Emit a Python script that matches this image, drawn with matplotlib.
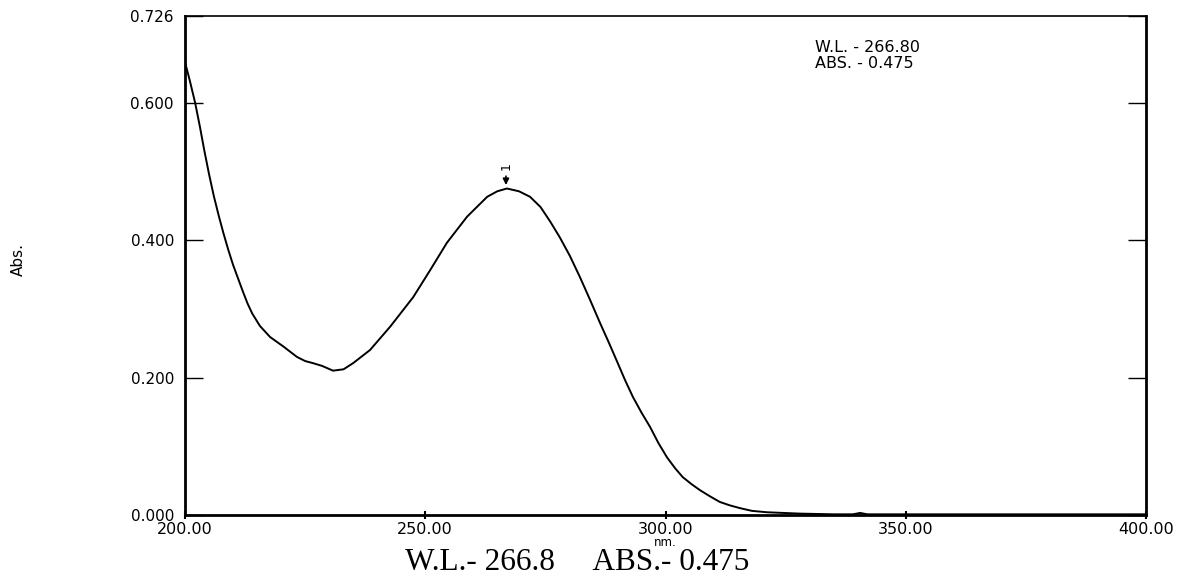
import matplotlib
matplotlib.use("Agg")
import matplotlib.pyplot as plt

wavelength = [200.0, 201.0, 202.1, 203.1, 204.0, 205.0, 206.0, 207.0, 208.0, 209.0,
              210.0, 211.0, 212.0, 213.0, 214.0, 215.6, 217.7, 220.5, 223.3, 225.0,
              226.6, 228.5, 230.8, 233.0, 235.0, 238.5, 242.7, 247.5, 251.0, 254.5,
              258.7, 262.9, 265.0, 267.0, 269.5, 271.8, 274.0, 276.0, 278.0, 280.1,
              282.2, 284.3, 286.4, 288.2, 290.0, 291.6, 293.2, 295.0, 296.8, 298.5,
              300.3, 302.0, 303.6, 305.4, 307.2, 309.3, 311.3, 313.4, 315.5, 318.0,
              321.1, 324.5, 328.0, 335.0, 339.0, 340.5, 342.0, 400.0]
absorbance = [0.659, 0.632, 0.600, 0.565, 0.531, 0.496, 0.464, 0.436, 0.410, 0.386,
              0.364, 0.345, 0.326, 0.308, 0.293, 0.275, 0.259, 0.245, 0.230, 0.224,
              0.221, 0.217, 0.210, 0.212, 0.221, 0.240, 0.274, 0.317, 0.356, 0.396,
              0.434, 0.463, 0.471, 0.475, 0.471, 0.463, 0.448, 0.427, 0.404, 0.377,
              0.346, 0.313, 0.279, 0.251, 0.222, 0.196, 0.172, 0.149, 0.128, 0.105,
              0.084, 0.068, 0.055, 0.045, 0.036, 0.027, 0.019, 0.014, 0.010, 0.006,
              0.004, 0.003, 0.002, 0.001, 0.001, 0.003, 0.001, 0.001]

x_ticks = [200, 250, 300, 350, 400]
x_labels = ["200.00", "250.00", "300.00", "350.00", "400.00"]
y_ticks = [0.0, 0.2, 0.4, 0.6, 0.726]
y_labels = ["0.000", "0.200", "0.400", "0.600", "0.726"]
peak_wl = 266.8
peak_abs = 0.475
info_lines = ["W.L. - 266.80", "ABS. - 0.475"]
caption = "W.L.- 266.8     ABS.- 0.475"

plt.rcParams['font.family'] = ['DejaVu Sans']

fig = plt.figure(figsize=(11.81, 5.82), dpi=100)
ax = fig.add_axes([185/1181, 1-515/582, (1146-185)/1181, (515-16)/582])

ax.plot(wavelength, absorbance, color='black', lw=1.4)
ax.set_xlim(200, 400)
ax.set_ylim(0, 0.726)

ax.set_xticks(x_ticks)
ax.set_xticklabels(x_labels)
ax.set_yticks(y_ticks)
ax.set_yticklabels(y_labels)
ax.tick_params(axis='y', direction='in', length=13, width=1, left=True, right=True,
               labelsize=11, pad=8)
ax.tick_params(axis='x', direction='inout', length=6, width=1.5, labelsize=11.5, pad=2)

for s in ['left', 'right', 'bottom']:
    ax.spines[s].set_linewidth(2)
ax.spines['top'].set_linewidth(1.2)

fig.text(665/1181, 1-543/582, "nm.", fontsize=8.5, ha='center', va='center')
fig.text(18/1181, 1-259/582, "Abs.", rotation=90, fontsize=11, ha='center', va='center',
         family=['Liberation Sans Narrow', 'DejaVu Sans'])

ax.annotate("", xy=(peak_wl, peak_abs + 0.001), xytext=(peak_wl, peak_abs + 0.022),
            arrowprops=dict(arrowstyle='-|>', color='black', lw=1.2, mutation_scale=9))
ax.text(peak_wl, peak_abs + 0.027, "1", rotation=90, fontsize=9, ha='center', va='bottom')

fig.text(815/1181, 1-47/582, info_lines[0], fontsize=11.5, ha='left', va='center')
fig.text(815/1181, 1-63/582, info_lines[1], fontsize=11.5, ha='left', va='center')

fig.text(577/1181, 1-562/582, caption, fontsize=22.5,
         family=['Liberation Serif', 'DejaVu Serif'], ha='center', va='center')

fig.savefig("out.png", dpi=100)
